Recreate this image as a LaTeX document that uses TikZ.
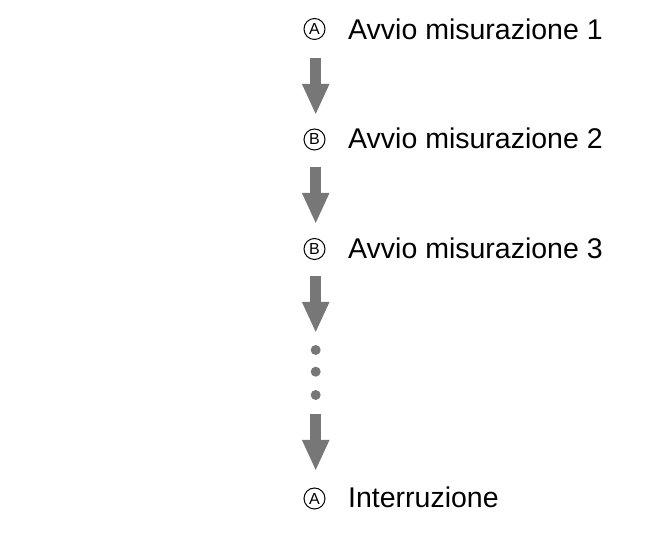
\documentclass[tikz,border=0pt]{standalone}
\usepackage{fontspec}
\setmainfont{Liberation Sans}
\usetikzlibrary{arrows.meta}
\definecolor{arrgray}{HTML}{777777}
\tikzset{
  lbl/.style={anchor=base west, inner sep=0pt, font=\fontsize{28.5}{32}\selectfont},
  circ/.style={circle, draw, line width=1pt, minimum size=21pt, inner sep=0pt, font=\fontsize{16}{17}\selectfont},
  bigarrow/.style={draw=arrgray, line width=11pt, -{Triangle[width=25pt,length=31pt]}},
  dotnode/.style={circle, fill=arrgray, minimum size=10pt, inner sep=0pt},
}
\begin{document}
\begin{tikzpicture}[x=1pt,y=1pt]
\useasboundingbox (0,0) rectangle (667,535);
% rows
\node[circ] (c1) at (314.5,506) {A};
\node[lbl] (t1) at (348,495.5) {Avvio misurazione 1};
\node[circ] (c2) at (314.5,395.5) {B};
\node[lbl] (t2) at (348,386) {Avvio misurazione 2};
\node[circ] (c3) at (314.5,286) {B};
\node[lbl] (t3) at (348,276.5) {Avvio misurazione 3};
\node[circ] (c4) at (314.5,36.5) {A};
\node[lbl] (t4) at (348,27) {Interruzione};
% dots
\node[dotnode] (d1) at (315.7,185) {};
\node[dotnode] (d2) at (315.7,163.3) {};
\node[dotnode] (d3) at (315.7,140) {};
% arrow endpoints
\coordinate (a1s) at (315.7,477);
\coordinate (a1e) at (315.7,420);
\coordinate (a2s) at (315.7,368);
\coordinate (a2e) at (315.7,311);
\coordinate (a3s) at (315.7,259);
\coordinate (a3e) at (315.7,202);
\coordinate (a4s) at (315.7,121);
\coordinate (a4e) at (315.7,64);
\draw[bigarrow] (a1s) -- (a1e);
\draw[bigarrow] (a2s) -- (a2e);
\draw[bigarrow] (a3s) -- (a3e);
\draw[bigarrow] (a4s) -- (a4e);
\end{tikzpicture}
\end{document}
